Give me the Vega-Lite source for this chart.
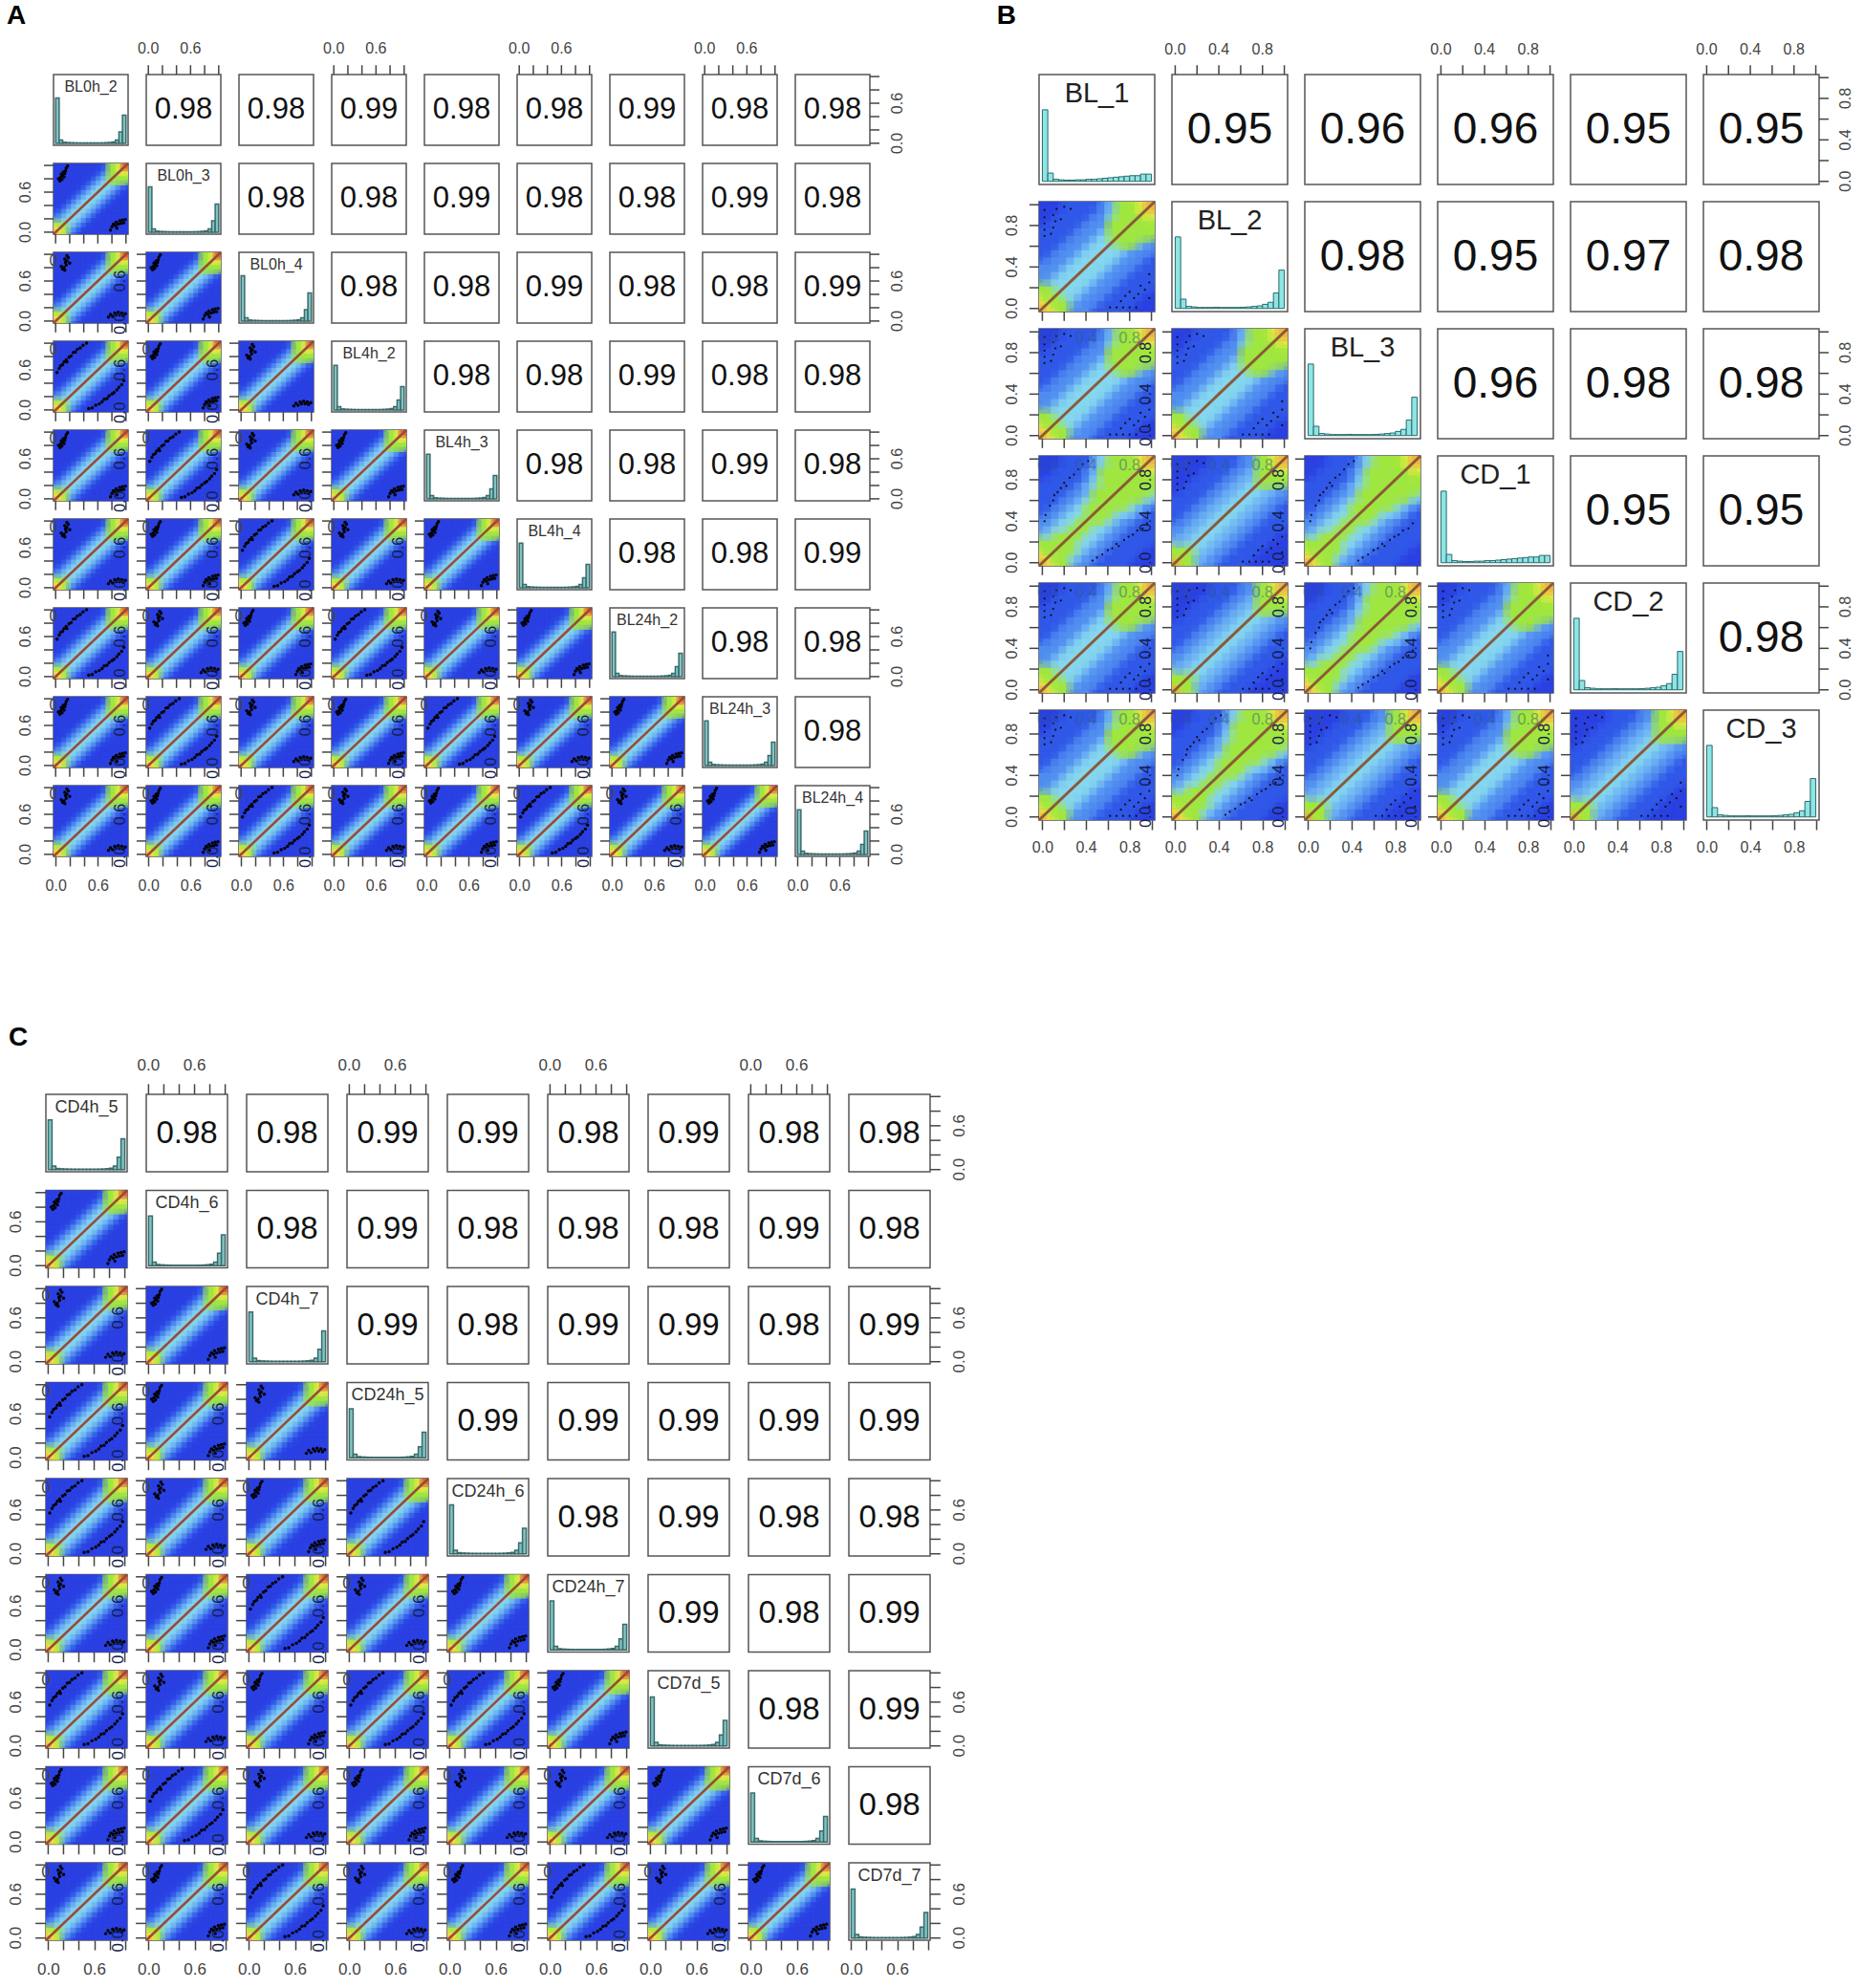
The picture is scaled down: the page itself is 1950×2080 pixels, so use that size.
{"$schema":"https://vega.github.io/schema/vega-lite/v6.json","padding":{"left":4,"top":2,"right":0,"bottom":0},"background":"white","config":{"font":"Liberation Sans","view":{"stroke":"#555","strokeWidth":1.5},"header":{"labels":false,"title":null,"labelFontSize":0,"labelColor":"transparent","labelPadding":0}},
"datasets":{
"cA":[{"k":"d","cell":[10,19,20,28,29,30,37,38,39,40,46,47,48,49,50,55,56,57,58,59,60,64,65,66,67,68,69,70,73,74,75,76,77,78,79,80]},{"k":"f","cell":[10,19,20,28,29,30,37,38,39,40,46,47,48,49,50,55,56,57,58,59,60,64,65,66,67,68,69,70,73,74,75,76,77,78,79,80]},{"k":"sc","cell":[10,19,20,28,29,30,37,38,39,40,46,47,48,49,50,55,56,57,58,59,60,64,65,66,67,68,69,70,73,74,75,76,77,78,79,80]},{"k":"btm","cell":[10,19,20,28,29,30,37,38,39,40,46,47,48,49,50,55,56,57,58,59,60,64,65,66,67,68,69,70]},{"k":"top","cell":[2,4,6,8]},{"k":"rgt","cell":[9,27,45,63,81]},{"k":"ll","cell":[10,19,28,37,46,55,64,73]},{"k":"g","cell":[19,28,29,37,38,39,46,47,48,49,55,56,57,58,59,64,65,66,67,68,69,73,74,75,76,77,78,79]},{"k":"0.98","cell":[2,3,5,6,8,9,12,13,15,16,18,22,23,25,26,32,33,35,36,42,43,45,52,53,62,63,72]},{"k":"0.99","cell":[4,7,14,17,24,27,34,44,54]},{"k":"hA","cell":[1,11,21]},{"k":"hA2","cell":[31,41,51,61,71,81]},{"k":"pS","cell":[28,38,48,58,68,78,55,65,75]},{"k":"p1","cell":[10,20,29,37,40,47,50,57,60,64,67,70,74,77,80]},{"k":"p2","cell":[19,30,39,46,49,56,59,66,69,73,76,79]},{"k":"BL0h_2","cell":[1]},{"k":"BL0h_3","cell":[11]},{"k":"BL0h_4","cell":[21]},{"k":"BL4h_2","cell":[31]},{"k":"BL4h_3","cell":[41]},{"k":"BL4h_4","cell":[51]},{"k":"BL24h_2","cell":[61]},{"k":"BL24h_3","cell":[71]},{"k":"BL24h_4","cell":[81]},{"k":"A","cell":[1]}],
"cC":[{"k":"d","cell":[10,19,20,28,29,30,37,38,39,40,46,47,48,49,50,55,56,57,58,59,60,64,65,66,67,68,69,70,73,74,75,76,77,78,79,80]},{"k":"f","cell":[10,19,20,28,29,30,37,38,39,40,46,47,48,49,50,55,56,57,58,59,60,64,65,66,67,68,69,70,73,74,75,76,77,78,79,80]},{"k":"sc","cell":[10,19,20,28,29,30,37,38,39,40,46,47,48,49,50,55,56,57,58,59,60,64,65,66,67,68,69,70,73,74,75,76,77,78,79,80]},{"k":"btm","cell":[10,19,20,28,29,30,37,38,39,40,46,47,48,49,50,55,56,57,58,59,60,64,65,66,67,68,69,70]},{"k":"top","cell":[2,4,6,8]},{"k":"rgt","cell":[9,27,45,63,81]},{"k":"ll","cell":[10,19,28,37,46,55,64,73]},{"k":"g","cell":[19,28,29,37,38,39,46,47,48,49,55,56,57,58,59,64,65,66,67,68,69,73,74,75,76,77,78,79]},{"k":"0.98","cell":[2,3,6,8,9,12,14,15,16,18,23,26,42,44,45,53,62,72]},{"k":"0.99","cell":[4,5,7,13,17,22,24,25,27,32,33,34,35,36,43,52,54,63]},{"k":"hA","cell":[1,11,21]},{"k":"hA2","cell":[31,41,51,61,71,81]},{"k":"pS","cell":[28,37,40,48,55,58,59,65,75,78]},{"k":"p1","cell":[10,20,29,39,47,50,57,60,64,67,70,74,77,80]},{"k":"p2","cell":[19,30,38,46,49,56,66,68,69,73,76,79]},{"k":"CD4h_5","cell":[1]},{"k":"CD4h_6","cell":[11]},{"k":"CD4h_7","cell":[21]},{"k":"CD24h_5","cell":[31]},{"k":"CD24h_6","cell":[41]},{"k":"CD24h_7","cell":[51]},{"k":"CD7d_5","cell":[61]},{"k":"CD7d_6","cell":[71]},{"k":"CD7d_7","cell":[81]},{"k":"C","cell":[1]}],
"cB":[{"k":"d","cell":[7,13,14,19,20,21,25,26,27,28,31,32,33,34,35]},{"k":"f","cell":[7,13,14,19,20,21,25,26,27,28,31,32,33,34,35]},{"k":"sc2","cell":[7,13,14,19,20,21,25,26,27,28,31,32,33,34,35]},{"k":"btm2","cell":[7,13,14,19,20,21,25,26,27,28]},{"k":"top2","cell":[2,4,6]},{"k":"rgt2","cell":[6,18,30]},{"k":"ll2","cell":[7,13,19,25,31]},{"k":"g2","cell":[13,19,20,25,26,27,31,32,33,34]},{"k":"0.95","cell":[2,5,6,10,23,24]},{"k":"0.96","cell":[3,4,16]},{"k":"0.97","cell":[11]},{"k":"0.98","cell":[9,12,17,18,30]},{"k":"hB1","cell":[1,22]},{"k":"hB2","cell":[8,15,29,36]},{"k":"pW","cell":[19,21,27,32]},{"k":"pK","cell":[7,13,14,20,25,26,28,31,33,34,35]},{"k":"BL_1","cell":[1]},{"k":"BL_2","cell":[8]},{"k":"BL_3","cell":[15]},{"k":"CD_1","cell":[22]},{"k":"CD_2","cell":[29]},{"k":"CD_3","cell":[36]},{"k":"B","cell":[1]}],
"rows":[
{"t":"L","k":"A","x":-0.56,"y":1.9},{"t":"L","k":"B","x":-0.33,"y":1.59},{"t":"L","k":"C","x":-0.39,"y":1.8},
{"k":"f","x":-0.03,"x2":1.03,"y":-0.03,"y2":1.03},
{"t":"c","k":"0.95","x":0.5,"y":0.5},{"t":"c","k":"0.96","x":0.5,"y":0.5},{"t":"c","k":"0.97","x":0.5,"y":0.5},{"t":"c","k":"0.98","x":0.5,"y":0.5},{"t":"c","k":"0.99","x":0.5,"y":0.5},
{"t":"l","k":"BL0h_2","x":0.5,"y":0.85},{"t":"l","k":"BL0h_3","x":0.5,"y":0.85},{"t":"l","k":"BL0h_4","x":0.5,"y":0.85},{"t":"l","k":"BL4h_2","x":0.5,"y":0.85},{"t":"l","k":"BL4h_3","x":0.5,"y":0.85},{"t":"l","k":"BL4h_4","x":0.5,"y":0.85},{"t":"l","k":"BL24h_2","x":0.5,"y":0.85},{"t":"l","k":"BL24h_3","x":0.5,"y":0.85},{"t":"l","k":"BL24h_4","x":0.5,"y":0.85},
{"t":"l","k":"CD4h_5","x":0.5,"y":0.85},{"t":"l","k":"CD4h_6","x":0.5,"y":0.85},{"t":"l","k":"CD4h_7","x":0.5,"y":0.85},{"t":"l","k":"CD24h_5","x":0.5,"y":0.85},{"t":"l","k":"CD24h_6","x":0.5,"y":0.85},{"t":"l","k":"CD24h_7","x":0.5,"y":0.85},{"t":"l","k":"CD7d_5","x":0.5,"y":0.85},{"t":"l","k":"CD7d_6","x":0.5,"y":0.85},{"t":"l","k":"CD7d_7","x":0.5,"y":0.85},
{"t":"l","k":"BL_1","x":0.5,"y":0.85},{"t":"l","k":"BL_2","x":0.5,"y":0.85},{"t":"l","k":"BL_3","x":0.5,"y":0.85},{"t":"l","k":"CD_1","x":0.5,"y":0.85},{"t":"l","k":"CD_2","x":0.5,"y":0.85},{"t":"l","k":"CD_3","x":0.5,"y":0.85},
{"t":"r","k":"top","x":0,"x2":0,"y":1.03,"y2":1.17},{"t":"r","k":"top","x":0.2,"x2":0.2,"y":1.03,"y2":1.17},{"t":"r","k":"top","x":0.4,"x2":0.4,"y":1.03,"y2":1.17},{"t":"r","k":"top","x":0.6,"x2":0.6,"y":1.03,"y2":1.17},{"t":"r","k":"top","x":0.8,"x2":0.8,"y":1.03,"y2":1.17},{"t":"r","k":"top","x":1,"x2":1,"y":1.03,"y2":1.17},
{"t":"r","k":"btm","x":0,"x2":0,"y":-0.03,"y2":-0.17},{"t":"r","k":"btm","x":0.2,"x2":0.2,"y":-0.03,"y2":-0.17},{"t":"r","k":"btm","x":0.4,"x2":0.4,"y":-0.03,"y2":-0.17},{"t":"r","k":"btm","x":0.6,"x2":0.6,"y":-0.03,"y2":-0.17},{"t":"r","k":"btm","x":0.8,"x2":0.8,"y":-0.03,"y2":-0.17},{"t":"r","k":"btm","x":1,"x2":1,"y":-0.03,"y2":-0.17},
{"t":"r","k":"sc","x":-0.03,"x2":-0.166,"y":0,"y2":0},{"t":"r","k":"sc","x":-0.03,"x2":-0.166,"y":0.2,"y2":0.2},{"t":"r","k":"sc","x":-0.03,"x2":-0.166,"y":0.4,"y2":0.4},{"t":"r","k":"sc","x":-0.03,"x2":-0.166,"y":0.6,"y2":0.6},{"t":"r","k":"sc","x":-0.03,"x2":-0.166,"y":0.8,"y2":0.8},{"t":"r","k":"sc","x":-0.03,"x2":-0.166,"y":1,"y2":1},
{"t":"r","k":"rgt","x":1.03,"x2":1.166,"y":0,"y2":0},{"t":"r","k":"rgt","x":1.03,"x2":1.166,"y":0.2,"y2":0.2},{"t":"r","k":"rgt","x":1.03,"x2":1.166,"y":0.4,"y2":0.4},{"t":"r","k":"rgt","x":1.03,"x2":1.166,"y":0.6,"y2":0.6},{"t":"r","k":"rgt","x":1.03,"x2":1.166,"y":0.8,"y2":0.8},{"t":"r","k":"rgt","x":1.03,"x2":1.166,"y":1,"y2":1},
{"t":"r","k":"top2","x":0,"x2":0,"y":1.03,"y2":1.12},{"t":"r","k":"top2","x":0.2,"x2":0.2,"y":1.03,"y2":1.12},{"t":"r","k":"top2","x":0.4,"x2":0.4,"y":1.03,"y2":1.12},{"t":"r","k":"top2","x":0.6,"x2":0.6,"y":1.03,"y2":1.12},{"t":"r","k":"top2","x":0.8,"x2":0.8,"y":1.03,"y2":1.12},{"t":"r","k":"top2","x":1,"x2":1,"y":1.03,"y2":1.12},
{"t":"r","k":"btm2","x":0,"x2":0,"y":-0.03,"y2":-0.12},{"t":"r","k":"btm2","x":0.2,"x2":0.2,"y":-0.03,"y2":-0.12},{"t":"r","k":"btm2","x":0.4,"x2":0.4,"y":-0.03,"y2":-0.12},{"t":"r","k":"btm2","x":0.6,"x2":0.6,"y":-0.03,"y2":-0.12},{"t":"r","k":"btm2","x":0.8,"x2":0.8,"y":-0.03,"y2":-0.12},{"t":"r","k":"btm2","x":1,"x2":1,"y":-0.03,"y2":-0.12},
{"t":"r","k":"sc2","x":-0.03,"x2":-0.118,"y":0,"y2":0},{"t":"r","k":"sc2","x":-0.03,"x2":-0.118,"y":0.2,"y2":0.2},{"t":"r","k":"sc2","x":-0.03,"x2":-0.118,"y":0.4,"y2":0.4},{"t":"r","k":"sc2","x":-0.03,"x2":-0.118,"y":0.6,"y2":0.6},{"t":"r","k":"sc2","x":-0.03,"x2":-0.118,"y":0.8,"y2":0.8},{"t":"r","k":"sc2","x":-0.03,"x2":-0.118,"y":1,"y2":1},
{"t":"r","k":"rgt2","x":1.03,"x2":1.118,"y":0,"y2":0},{"t":"r","k":"rgt2","x":1.03,"x2":1.118,"y":0.2,"y2":0.2},{"t":"r","k":"rgt2","x":1.03,"x2":1.118,"y":0.4,"y2":0.4},{"t":"r","k":"rgt2","x":1.03,"x2":1.118,"y":0.6,"y2":0.6},{"t":"r","k":"rgt2","x":1.03,"x2":1.118,"y":0.8,"y2":0.8},{"t":"r","k":"rgt2","x":1.03,"x2":1.118,"y":1,"y2":1},
{"t":"a","k":"top","x":0,"y":1.42,"v":"0.0"},{"t":"a","k":"top","x":0.6,"y":1.42,"v":"0.6"},
{"t":"s","k":"ll","x":-0.42,"y":0,"v":"0.0"},{"t":"s","k":"ll","x":-0.42,"y":0.6,"v":"0.6"},
{"t":"s","k":"rgt","x":1.42,"y":0,"v":"0.0"},{"t":"s","k":"rgt","x":1.42,"y":0.6,"v":"0.6"},
{"t":"z","k":"g","x":0.92,"y":0.6,"v":"0.6"},{"t":"z","k":"g","x":0.92,"y":-0.04,"v":"0.0"},{"t":"a","k":"g","x":-0.03,"y":0.9,"v":"0"},
{"t":"a","k":"top2","x":0,"y":1.27,"v":"0.0"},{"t":"a","k":"top2","x":0.4,"y":1.27,"v":"0.4"},{"t":"a","k":"top2","x":0.8,"y":1.27,"v":"0.8"},
{"t":"s","k":"ll2","x":-0.275,"y":0,"v":"0.0"},{"t":"s","k":"ll2","x":-0.275,"y":0.4,"v":"0.4"},{"t":"s","k":"ll2","x":-0.275,"y":0.8,"v":"0.8"},
{"t":"s","k":"rgt2","x":1.275,"y":0,"v":"0.0"},{"t":"s","k":"rgt2","x":1.275,"y":0.4,"v":"0.4"},{"t":"s","k":"rgt2","x":1.275,"y":0.8,"v":"0.8"},
{"t":"z","k":"g2","x":0.95,"y":0,"v":"0.0"},{"t":"z","k":"g2","x":0.95,"y":0.4,"v":"0.4"},{"t":"z","k":"g2","x":0.95,"y":0.8,"v":"0.8"},
{"t":"q","k":"g2","x":0.05,"y":0.94,"v":"0.0"},{"t":"q","k":"g2","x":0.4,"y":0.94,"v":"0.4"},{"t":"q","k":"g2","x":0.8,"y":0.94,"v":"0.8"},
{"t":"h","k":"hA","x":0,"x2":0.05,"y":0.68},{"t":"h","k":"hA","x":0.05,"x2":0.1,"y":0.05},{"t":"h","k":"hA","x":0.1,"x2":0.15,"y":0.015},{"t":"h","k":"hA","x":0.15,"x2":0.2,"y":0.01},{"t":"h","k":"hA","x":0.2,"x2":0.25,"y":0.008},{"t":"h","k":"hA","x":0.25,"x2":0.3,"y":0.006},{"t":"h","k":"hA","x":0.3,"x2":0.35,"y":0.005},{"t":"h","k":"hA","x":0.35,"x2":0.4,"y":0.005},{"t":"h","k":"hA","x":0.4,"x2":0.45,"y":0.005},{"t":"h","k":"hA","x":0.45,"x2":0.5,"y":0.005},{"t":"h","k":"hA","x":0.5,"x2":0.55,"y":0.005},{"t":"h","k":"hA","x":0.55,"x2":0.6,"y":0.005},{"t":"h","k":"hA","x":0.6,"x2":0.65,"y":0.005},{"t":"h","k":"hA","x":0.65,"x2":0.7,"y":0.006},{"t":"h","k":"hA","x":0.7,"x2":0.75,"y":0.008},{"t":"h","k":"hA","x":0.75,"x2":0.8,"y":0.012},{"t":"h","k":"hA","x":0.8,"x2":0.85,"y":0.02},{"t":"h","k":"hA","x":0.85,"x2":0.9,"y":0.05},{"t":"h","k":"hA","x":0.9,"x2":0.95,"y":0.17},{"t":"h","k":"hA","x":0.95,"x2":1,"y":0.42},
{"t":"h","k":"hA2","x":0,"x2":0.05,"y":0.67},{"t":"h","k":"hA2","x":0.05,"x2":0.1,"y":0.05},{"t":"h","k":"hA2","x":0.1,"x2":0.15,"y":0.015},{"t":"h","k":"hA2","x":0.15,"x2":0.2,"y":0.01},{"t":"h","k":"hA2","x":0.2,"x2":0.25,"y":0.008},{"t":"h","k":"hA2","x":0.25,"x2":0.3,"y":0.006},{"t":"h","k":"hA2","x":0.3,"x2":0.35,"y":0.005},{"t":"h","k":"hA2","x":0.35,"x2":0.4,"y":0.005},{"t":"h","k":"hA2","x":0.4,"x2":0.45,"y":0.005},{"t":"h","k":"hA2","x":0.45,"x2":0.5,"y":0.005},{"t":"h","k":"hA2","x":0.5,"x2":0.55,"y":0.005},{"t":"h","k":"hA2","x":0.55,"x2":0.6,"y":0.005},{"t":"h","k":"hA2","x":0.6,"x2":0.65,"y":0.005},{"t":"h","k":"hA2","x":0.65,"x2":0.7,"y":0.006},{"t":"h","k":"hA2","x":0.7,"x2":0.75,"y":0.008},{"t":"h","k":"hA2","x":0.75,"x2":0.8,"y":0.012},{"t":"h","k":"hA2","x":0.8,"x2":0.85,"y":0.02},{"t":"h","k":"hA2","x":0.85,"x2":0.9,"y":0.05},{"t":"h","k":"hA2","x":0.9,"x2":0.95,"y":0.15},{"t":"h","k":"hA2","x":0.95,"x2":1,"y":0.35},
{"t":"h","k":"hB1","x":0,"x2":0.05,"y":0.69},{"t":"h","k":"hB1","x":0.05,"x2":0.1,"y":0.08},{"t":"h","k":"hB1","x":0.1,"x2":0.15,"y":0.02},{"t":"h","k":"hB1","x":0.15,"x2":0.2,"y":0.015},{"t":"h","k":"hB1","x":0.2,"x2":0.25,"y":0.012},{"t":"h","k":"hB1","x":0.25,"x2":0.3,"y":0.012},{"t":"h","k":"hB1","x":0.3,"x2":0.35,"y":0.015},{"t":"h","k":"hB1","x":0.35,"x2":0.4,"y":0.015},{"t":"h","k":"hB1","x":0.4,"x2":0.45,"y":0.02},{"t":"h","k":"hB1","x":0.45,"x2":0.5,"y":0.02},{"t":"h","k":"hB1","x":0.5,"x2":0.55,"y":0.025},{"t":"h","k":"hB1","x":0.55,"x2":0.6,"y":0.03},{"t":"h","k":"hB1","x":0.6,"x2":0.65,"y":0.035},{"t":"h","k":"hB1","x":0.65,"x2":0.7,"y":0.04},{"t":"h","k":"hB1","x":0.7,"x2":0.75,"y":0.045},{"t":"h","k":"hB1","x":0.75,"x2":0.8,"y":0.05},{"t":"h","k":"hB1","x":0.8,"x2":0.85,"y":0.055},{"t":"h","k":"hB1","x":0.85,"x2":0.9,"y":0.055},{"t":"h","k":"hB1","x":0.9,"x2":0.95,"y":0.07},{"t":"h","k":"hB1","x":0.95,"x2":1,"y":0.07},
{"t":"h","k":"hB2","x":0,"x2":0.05,"y":0.69},{"t":"h","k":"hB2","x":0.05,"x2":0.1,"y":0.09},{"t":"h","k":"hB2","x":0.1,"x2":0.15,"y":0.02},{"t":"h","k":"hB2","x":0.15,"x2":0.2,"y":0.015},{"t":"h","k":"hB2","x":0.2,"x2":0.25,"y":0.01},{"t":"h","k":"hB2","x":0.25,"x2":0.3,"y":0.01},{"t":"h","k":"hB2","x":0.3,"x2":0.35,"y":0.01},{"t":"h","k":"hB2","x":0.35,"x2":0.4,"y":0.012},{"t":"h","k":"hB2","x":0.4,"x2":0.45,"y":0.01},{"t":"h","k":"hB2","x":0.45,"x2":0.5,"y":0.01},{"t":"h","k":"hB2","x":0.5,"x2":0.55,"y":0.01},{"t":"h","k":"hB2","x":0.55,"x2":0.6,"y":0.01},{"t":"h","k":"hB2","x":0.6,"x2":0.65,"y":0.012},{"t":"h","k":"hB2","x":0.65,"x2":0.7,"y":0.015},{"t":"h","k":"hB2","x":0.7,"x2":0.75,"y":0.02},{"t":"h","k":"hB2","x":0.75,"x2":0.8,"y":0.025},{"t":"h","k":"hB2","x":0.8,"x2":0.85,"y":0.04},{"t":"h","k":"hB2","x":0.85,"x2":0.9,"y":0.06},{"t":"h","k":"hB2","x":0.9,"x2":0.95,"y":0.15},{"t":"h","k":"hB2","x":0.95,"x2":1,"y":0.37},
{"t":"p","k":"pS","x":0.02,"y":0.56},{"t":"p","k":"pS","x":0.05,"y":0.62},{"t":"p","k":"pS","x":0.07,"y":0.66},{"t":"p","k":"pS","x":0.1,"y":0.68},{"t":"p","k":"pS","x":0.12,"y":0.72},{"t":"p","k":"pS","x":0.15,"y":0.75},{"t":"p","k":"pS","x":0.16,"y":0.72},{"t":"p","k":"pS","x":0.19,"y":0.79},{"t":"p","k":"pS","x":0.22,"y":0.81},{"t":"p","k":"pS","x":0.25,"y":0.86},{"t":"p","k":"pS","x":0.28,"y":0.87},{"t":"p","k":"pS","x":0.31,"y":0.91},{"t":"p","k":"pS","x":0.35,"y":0.93},{"t":"p","k":"pS","x":0.39,"y":0.97},{"t":"p","k":"pS","x":0.44,"y":1},{"t":"p","k":"pS","x":0.47,"y":0.02},{"t":"p","k":"pS","x":0.52,"y":0.03},{"t":"p","k":"pS","x":0.57,"y":0.07},{"t":"p","k":"pS","x":0.62,"y":0.09},{"t":"p","k":"pS","x":0.66,"y":0.12},{"t":"p","k":"pS","x":0.69,"y":0.16},{"t":"p","k":"pS","x":0.73,"y":0.17},{"t":"p","k":"pS","x":0.76,"y":0.21},{"t":"p","k":"pS","x":0.8,"y":0.24},{"t":"p","k":"pS","x":0.83,"y":0.26},{"t":"p","k":"pS","x":0.87,"y":0.3},{"t":"p","k":"pS","x":0.9,"y":0.34},{"t":"p","k":"pS","x":0.94,"y":0.38},{"t":"p","k":"pS","x":0.97,"y":0.44},
{"t":"p","k":"p1","x":0.04,"y":0.8},{"t":"p","k":"p1","x":0.06,"y":0.77},{"t":"p","k":"p1","x":0.07,"y":0.82},{"t":"p","k":"p1","x":0.09,"y":0.79},{"t":"p","k":"p1","x":0.1,"y":0.85},{"t":"p","k":"p1","x":0.12,"y":0.83},{"t":"p","k":"p1","x":0.13,"y":0.88},{"t":"p","k":"p1","x":0.14,"y":0.92},{"t":"p","k":"p1","x":0.15,"y":0.96},{"t":"p","k":"p1","x":0.17,"y":0.99},{"t":"p","k":"p1","x":0.11,"y":0.9},{"t":"p","k":"p1","x":0.08,"y":0.87},{"t":"p","k":"p1","x":0.78,"y":0.03},{"t":"p","k":"p1","x":0.8,"y":0.08},{"t":"p","k":"p1","x":0.82,"y":0.12},{"t":"p","k":"p1","x":0.85,"y":0.1},{"t":"p","k":"p1","x":0.86,"y":0.15},{"t":"p","k":"p1","x":0.89,"y":0.12},{"t":"p","k":"p1","x":0.91,"y":0.17},{"t":"p","k":"p1","x":0.93,"y":0.13},{"t":"p","k":"p1","x":0.95,"y":0.18},{"t":"p","k":"p1","x":0.97,"y":0.14},{"t":"p","k":"p1","x":0.99,"y":0.19},{"t":"p","k":"p1","x":0.87,"y":0.06},
{"t":"p","k":"p2","x":0.08,"y":0.82},{"t":"p","k":"p2","x":0.1,"y":0.78},{"t":"p","k":"p2","x":0.12,"y":0.8},{"t":"p","k":"p2","x":0.13,"y":0.76},{"t":"p","k":"p2","x":0.15,"y":0.84},{"t":"p","k":"p2","x":0.14,"y":0.88},{"t":"p","k":"p2","x":0.16,"y":0.9},{"t":"p","k":"p2","x":0.13,"y":0.93},{"t":"p","k":"p2","x":0.18,"y":0.95},{"t":"p","k":"p2","x":0.16,"y":0.98},{"t":"p","k":"p2","x":0.2,"y":0.87},{"t":"p","k":"p2","x":0.75,"y":0.06},{"t":"p","k":"p2","x":0.78,"y":0.1},{"t":"p","k":"p2","x":0.81,"y":0.07},{"t":"p","k":"p2","x":0.84,"y":0.12},{"t":"p","k":"p2","x":0.86,"y":0.09},{"t":"p","k":"p2","x":0.89,"y":0.13},{"t":"p","k":"p2","x":0.91,"y":0.09},{"t":"p","k":"p2","x":0.94,"y":0.12},{"t":"p","k":"p2","x":0.96,"y":0.08},{"t":"p","k":"p2","x":0.99,"y":0.11},
{"t":"p","k":"pW","x":0.02,"y":0.4},{"t":"p","k":"pW","x":0.03,"y":0.46},{"t":"p","k":"pW","x":0.07,"y":0.55},{"t":"p","k":"pW","x":0.1,"y":0.6},{"t":"p","k":"pW","x":0.11,"y":0.65},{"t":"p","k":"pW","x":0.14,"y":0.68},{"t":"p","k":"pW","x":0.17,"y":0.72},{"t":"p","k":"pW","x":0.2,"y":0.77},{"t":"p","k":"pW","x":0.22,"y":0.74},{"t":"p","k":"pW","x":0.25,"y":0.82},{"t":"p","k":"pW","x":0.29,"y":0.85},{"t":"p","k":"pW","x":0.33,"y":0.9},{"t":"p","k":"pW","x":0.37,"y":0.95},{"t":"p","k":"pW","x":0.42,"y":0.98},{"t":"p","k":"pW","x":0.46,"y":0.02},{"t":"p","k":"pW","x":0.5,"y":0.05},{"t":"p","k":"pW","x":0.55,"y":0.08},{"t":"p","k":"pW","x":0.6,"y":0.12},{"t":"p","k":"pW","x":0.64,"y":0.14},{"t":"p","k":"pW","x":0.68,"y":0.18},{"t":"p","k":"pW","x":0.7,"y":0.16},{"t":"p","k":"pW","x":0.75,"y":0.22},{"t":"p","k":"pW","x":0.79,"y":0.25},{"t":"p","k":"pW","x":0.83,"y":0.27},{"t":"p","k":"pW","x":0.87,"y":0.31},{"t":"p","k":"pW","x":0.92,"y":0.33},{"t":"p","k":"pW","x":0.96,"y":0.38},
{"t":"p","k":"pK","x":0.02,"y":0.7},{"t":"p","k":"pK","x":0.02,"y":0.76},{"t":"p","k":"pK","x":0.02,"y":0.82},{"t":"p","k":"pK","x":0.02,"y":0.88},{"t":"p","k":"pK","x":0.02,"y":0.95},{"t":"p","k":"pK","x":0.08,"y":0.72},{"t":"p","k":"pK","x":0.1,"y":0.78},{"t":"p","k":"pK","x":0.12,"y":0.84},{"t":"p","k":"pK","x":0.1,"y":0.9},{"t":"p","k":"pK","x":0.13,"y":0.96},{"t":"p","k":"pK","x":0.17,"y":0.86},{"t":"p","k":"pK","x":0.2,"y":0.98},{"t":"p","k":"pK","x":0.26,"y":0.96},{"t":"p","k":"pK","x":0.62,"y":0.01},{"t":"p","k":"pK","x":0.68,"y":0.01},{"t":"p","k":"pK","x":0.74,"y":0.01},{"t":"p","k":"pK","x":0.8,"y":0.01},{"t":"p","k":"pK","x":0.86,"y":0.01},{"t":"p","k":"pK","x":0.72,"y":0.07},{"t":"p","k":"pK","x":0.76,"y":0.12},{"t":"p","k":"pK","x":0.8,"y":0.16},{"t":"p","k":"pK","x":0.84,"y":0.1},{"t":"p","k":"pK","x":0.88,"y":0.14},{"t":"p","k":"pK","x":0.9,"y":0.22},{"t":"p","k":"pK","x":0.94,"y":0.18},{"t":"p","k":"pK","x":0.98,"y":0.1},{"t":"p","k":"pK","x":0.98,"y":0.25},{"t":"p","k":"pK","x":0.98,"y":0.33},
{"k":"d","x":0.01,"y":0.01,"a":8,"b":8,"w":8,"s":8},{"k":"d","x":0.08,"y":0.01,"a":7,"b":7,"w":7,"s":6},{"k":"d","x":0.15,"y":0.01,"a":5,"b":5,"w":5,"s":5},{"k":"d","x":0.22,"y":0.01,"a":2,"b":5,"w":5,"s":3},{"k":"d","x":0.29,"y":0.01,"a":1,"b":2,"w":3,"s":2},{"k":"d","x":0.36,"y":0.01,"a":0,"b":2,"w":2,"s":2},{"k":"d","x":0.43,"y":0.01,"a":0,"b":2,"w":2,"s":1},{"k":"d","x":0.5,"y":0.01,"a":0,"b":1,"w":1,"s":1},{"k":"d","x":0.57,"y":0.01,"a":0,"b":1,"w":1,"s":1},{"k":"d","x":0.64,"y":0.01,"a":0,"b":1,"w":1,"s":1},{"k":"d","x":0.71,"y":0.01,"a":0,"b":1,"w":1,"s":0},{"k":"d","x":0.78,"y":0.01,"a":0,"b":1,"w":1,"s":0},{"k":"d","x":0.85,"y":0.01,"a":0,"b":0,"w":0,"s":0},{"k":"d","x":0.92,"y":0.01,"a":0,"b":0,"w":0,"s":0},{"k":"d","x":0.99,"y":0.01,"a":0,"b":0,"w":0,"s":0},
{"k":"d","x":0.01,"y":0.08,"a":7,"b":7,"w":7,"s":6},{"k":"d","x":0.08,"y":0.08,"a":7,"b":6,"w":6,"s":6},{"k":"d","x":0.15,"y":0.08,"a":5,"b":5,"w":5,"s":5},{"k":"d","x":0.22,"y":0.08,"a":3,"b":5,"w":5,"s":3},{"k":"d","x":0.29,"y":0.08,"a":2,"b":3,"w":4,"s":3},{"k":"d","x":0.36,"y":0.08,"a":1,"b":2,"w":3,"s":2},{"k":"d","x":0.43,"y":0.08,"a":0,"b":2,"w":2,"s":2},{"k":"d","x":0.5,"y":0.08,"a":0,"b":2,"w":2,"s":1},{"k":"d","x":0.57,"y":0.08,"a":0,"b":1,"w":1,"s":1},{"k":"d","x":0.64,"y":0.08,"a":0,"b":1,"w":1,"s":1},{"k":"d","x":0.71,"y":0.08,"a":0,"b":1,"w":1,"s":1},{"k":"d","x":0.78,"y":0.08,"a":0,"b":1,"w":1,"s":0},{"k":"d","x":0.85,"y":0.08,"a":0,"b":1,"w":1,"s":0},{"k":"d","x":0.92,"y":0.08,"a":0,"b":0,"w":0,"s":0},{"k":"d","x":0.99,"y":0.08,"a":0,"b":0,"w":0,"s":0},
{"k":"d","x":0.01,"y":0.15,"a":5,"b":5,"w":5,"s":5},{"k":"d","x":0.08,"y":0.15,"a":5,"b":5,"w":5,"s":5},{"k":"d","x":0.15,"y":0.15,"a":5,"b":5,"w":5,"s":5},{"k":"d","x":0.22,"y":0.15,"a":4,"b":4,"w":5,"s":4},{"k":"d","x":0.29,"y":0.15,"a":3,"b":4,"w":5,"s":3},{"k":"d","x":0.36,"y":0.15,"a":2,"b":3,"w":4,"s":3},{"k":"d","x":0.43,"y":0.15,"a":1,"b":2,"w":3,"s":2},{"k":"d","x":0.5,"y":0.15,"a":0,"b":2,"w":2,"s":2},{"k":"d","x":0.57,"y":0.15,"a":0,"b":2,"w":2,"s":1},{"k":"d","x":0.64,"y":0.15,"a":0,"b":1,"w":1,"s":1},{"k":"d","x":0.71,"y":0.15,"a":0,"b":1,"w":1,"s":1},{"k":"d","x":0.78,"y":0.15,"a":0,"b":1,"w":1,"s":1},{"k":"d","x":0.85,"y":0.15,"a":0,"b":1,"w":1,"s":0},{"k":"d","x":0.92,"y":0.15,"a":0,"b":1,"w":1,"s":0},{"k":"d","x":0.99,"y":0.15,"a":0,"b":0,"w":0,"s":0},
{"k":"d","x":0.01,"y":0.22,"a":2,"b":5,"w":5,"s":3},{"k":"d","x":0.08,"y":0.22,"a":3,"b":5,"w":5,"s":3},{"k":"d","x":0.15,"y":0.22,"a":4,"b":4,"w":5,"s":4},{"k":"d","x":0.22,"y":0.22,"a":4,"b":4,"w":5,"s":4},{"k":"d","x":0.29,"y":0.22,"a":4,"b":4,"w":5,"s":4},{"k":"d","x":0.36,"y":0.22,"a":3,"b":4,"w":4,"s":3},{"k":"d","x":0.43,"y":0.22,"a":2,"b":3,"w":4,"s":3},{"k":"d","x":0.5,"y":0.22,"a":1,"b":2,"w":3,"s":2},{"k":"d","x":0.57,"y":0.22,"a":0,"b":2,"w":2,"s":2},{"k":"d","x":0.64,"y":0.22,"a":0,"b":2,"w":2,"s":1},{"k":"d","x":0.71,"y":0.22,"a":0,"b":1,"w":1,"s":1},{"k":"d","x":0.78,"y":0.22,"a":0,"b":1,"w":1,"s":1},{"k":"d","x":0.85,"y":0.22,"a":0,"b":1,"w":1,"s":1},{"k":"d","x":0.92,"y":0.22,"a":0,"b":1,"w":1,"s":0},{"k":"d","x":0.99,"y":0.22,"a":0,"b":1,"w":1,"s":0},
{"k":"d","x":0.01,"y":0.29,"a":1,"b":2,"w":3,"s":2},{"k":"d","x":0.08,"y":0.29,"a":2,"b":3,"w":4,"s":3},{"k":"d","x":0.15,"y":0.29,"a":3,"b":4,"w":5,"s":3},{"k":"d","x":0.22,"y":0.29,"a":4,"b":4,"w":5,"s":4},{"k":"d","x":0.29,"y":0.29,"a":4,"b":4,"w":5,"s":4},{"k":"d","x":0.36,"y":0.29,"a":4,"b":4,"w":5,"s":4},{"k":"d","x":0.43,"y":0.29,"a":3,"b":4,"w":4,"s":3},{"k":"d","x":0.5,"y":0.29,"a":2,"b":3,"w":4,"s":3},{"k":"d","x":0.57,"y":0.29,"a":1,"b":2,"w":3,"s":2},{"k":"d","x":0.64,"y":0.29,"a":0,"b":2,"w":2,"s":2},{"k":"d","x":0.71,"y":0.29,"a":0,"b":2,"w":2,"s":1},{"k":"d","x":0.78,"y":0.29,"a":0,"b":1,"w":1,"s":1},{"k":"d","x":0.85,"y":0.29,"a":0,"b":1,"w":1,"s":1},{"k":"d","x":0.92,"y":0.29,"a":0,"b":1,"w":1,"s":1},{"k":"d","x":0.99,"y":0.29,"a":0,"b":1,"w":1,"s":0},
{"k":"d","x":0.01,"y":0.36,"a":0,"b":2,"w":2,"s":2},{"k":"d","x":0.08,"y":0.36,"a":1,"b":2,"w":3,"s":2},{"k":"d","x":0.15,"y":0.36,"a":2,"b":3,"w":4,"s":3},{"k":"d","x":0.22,"y":0.36,"a":3,"b":4,"w":4,"s":3},{"k":"d","x":0.29,"y":0.36,"a":4,"b":4,"w":5,"s":4},{"k":"d","x":0.36,"y":0.36,"a":4,"b":4,"w":5,"s":4},{"k":"d","x":0.43,"y":0.36,"a":4,"b":4,"w":5,"s":4},{"k":"d","x":0.5,"y":0.36,"a":3,"b":4,"w":4,"s":3},{"k":"d","x":0.57,"y":0.36,"a":2,"b":3,"w":4,"s":3},{"k":"d","x":0.64,"y":0.36,"a":1,"b":2,"w":3,"s":2},{"k":"d","x":0.71,"y":0.36,"a":0,"b":2,"w":2,"s":2},{"k":"d","x":0.78,"y":0.36,"a":0,"b":2,"w":2,"s":1},{"k":"d","x":0.85,"y":0.36,"a":0,"b":1,"w":1,"s":1},{"k":"d","x":0.92,"y":0.36,"a":0,"b":1,"w":1,"s":1},{"k":"d","x":0.99,"y":0.36,"a":0,"b":1,"w":1,"s":1},
{"k":"d","x":0.01,"y":0.43,"a":0,"b":2,"w":2,"s":1},{"k":"d","x":0.08,"y":0.43,"a":0,"b":2,"w":2,"s":2},{"k":"d","x":0.15,"y":0.43,"a":1,"b":2,"w":3,"s":2},{"k":"d","x":0.22,"y":0.43,"a":2,"b":3,"w":4,"s":3},{"k":"d","x":0.29,"y":0.43,"a":3,"b":4,"w":4,"s":3},{"k":"d","x":0.36,"y":0.43,"a":4,"b":4,"w":5,"s":4},{"k":"d","x":0.43,"y":0.43,"a":4,"b":4,"w":5,"s":4},{"k":"d","x":0.5,"y":0.43,"a":4,"b":4,"w":5,"s":4},{"k":"d","x":0.57,"y":0.43,"a":3,"b":4,"w":5,"s":3},{"k":"d","x":0.64,"y":0.43,"a":2,"b":3,"w":4,"s":3},{"k":"d","x":0.71,"y":0.43,"a":1,"b":2,"w":3,"s":2},{"k":"d","x":0.78,"y":0.43,"a":0,"b":2,"w":2,"s":2},{"k":"d","x":0.85,"y":0.43,"a":0,"b":2,"w":2,"s":1},{"k":"d","x":0.92,"y":0.43,"a":0,"b":1,"w":1,"s":1},{"k":"d","x":0.99,"y":0.43,"a":0,"b":1,"w":1,"s":1},
{"k":"d","x":0.01,"y":0.5,"a":0,"b":1,"w":1,"s":1},{"k":"d","x":0.08,"y":0.5,"a":0,"b":2,"w":2,"s":1},{"k":"d","x":0.15,"y":0.5,"a":0,"b":2,"w":2,"s":2},{"k":"d","x":0.22,"y":0.5,"a":1,"b":2,"w":3,"s":2},{"k":"d","x":0.29,"y":0.5,"a":2,"b":3,"w":4,"s":3},{"k":"d","x":0.36,"y":0.5,"a":3,"b":4,"w":4,"s":3},{"k":"d","x":0.43,"y":0.5,"a":4,"b":4,"w":5,"s":4},{"k":"d","x":0.5,"y":0.5,"a":4,"b":4,"w":5,"s":4},{"k":"d","x":0.57,"y":0.5,"a":4,"b":4,"w":5,"s":4},{"k":"d","x":0.64,"y":0.5,"a":3,"b":4,"w":5,"s":3},{"k":"d","x":0.71,"y":0.5,"a":2,"b":3,"w":4,"s":3},{"k":"d","x":0.78,"y":0.5,"a":1,"b":2,"w":4,"s":2},{"k":"d","x":0.85,"y":0.5,"a":0,"b":2,"w":3,"s":2},{"k":"d","x":0.92,"y":0.5,"a":0,"b":2,"w":2,"s":1},{"k":"d","x":0.99,"y":0.5,"a":0,"b":1,"w":1,"s":1},
{"k":"d","x":0.01,"y":0.57,"a":0,"b":1,"w":1,"s":1},{"k":"d","x":0.08,"y":0.57,"a":0,"b":1,"w":1,"s":1},{"k":"d","x":0.15,"y":0.57,"a":0,"b":2,"w":2,"s":1},{"k":"d","x":0.22,"y":0.57,"a":0,"b":2,"w":2,"s":2},{"k":"d","x":0.29,"y":0.57,"a":1,"b":2,"w":3,"s":2},{"k":"d","x":0.36,"y":0.57,"a":2,"b":3,"w":4,"s":3},{"k":"d","x":0.43,"y":0.57,"a":3,"b":4,"w":5,"s":3},{"k":"d","x":0.5,"y":0.57,"a":4,"b":4,"w":5,"s":4},{"k":"d","x":0.57,"y":0.57,"a":4,"b":4,"w":5,"s":4},{"k":"d","x":0.64,"y":0.57,"a":4,"b":4,"w":5,"s":4},{"k":"d","x":0.71,"y":0.57,"a":3,"b":4,"w":5,"s":3},{"k":"d","x":0.78,"y":0.57,"a":2,"b":3,"w":5,"s":3},{"k":"d","x":0.85,"y":0.57,"a":1,"b":2,"w":4,"s":2},{"k":"d","x":0.92,"y":0.57,"a":0,"b":2,"w":3,"s":2},{"k":"d","x":0.99,"y":0.57,"a":0,"b":2,"w":2,"s":1},
{"k":"d","x":0.01,"y":0.64,"a":0,"b":1,"w":1,"s":1},{"k":"d","x":0.08,"y":0.64,"a":0,"b":1,"w":1,"s":1},{"k":"d","x":0.15,"y":0.64,"a":0,"b":1,"w":1,"s":1},{"k":"d","x":0.22,"y":0.64,"a":0,"b":2,"w":2,"s":1},{"k":"d","x":0.29,"y":0.64,"a":0,"b":2,"w":2,"s":2},{"k":"d","x":0.36,"y":0.64,"a":1,"b":2,"w":3,"s":2},{"k":"d","x":0.43,"y":0.64,"a":2,"b":3,"w":4,"s":3},{"k":"d","x":0.5,"y":0.64,"a":3,"b":4,"w":5,"s":3},{"k":"d","x":0.57,"y":0.64,"a":4,"b":4,"w":5,"s":4},{"k":"d","x":0.64,"y":0.64,"a":4,"b":4,"w":5,"s":4},{"k":"d","x":0.71,"y":0.64,"a":4,"b":5,"w":5,"s":4},{"k":"d","x":0.78,"y":0.64,"a":3,"b":5,"w":5,"s":3},{"k":"d","x":0.85,"y":0.64,"a":2,"b":5,"w":5,"s":3},{"k":"d","x":0.92,"y":0.64,"a":1,"b":3,"w":5,"s":2},{"k":"d","x":0.99,"y":0.64,"a":0,"b":2,"w":4,"s":2},
{"k":"d","x":0.01,"y":0.71,"a":0,"b":1,"w":1,"s":0},{"k":"d","x":0.08,"y":0.71,"a":0,"b":1,"w":1,"s":1},{"k":"d","x":0.15,"y":0.71,"a":0,"b":1,"w":1,"s":1},{"k":"d","x":0.22,"y":0.71,"a":0,"b":1,"w":1,"s":1},{"k":"d","x":0.29,"y":0.71,"a":0,"b":2,"w":2,"s":1},{"k":"d","x":0.36,"y":0.71,"a":0,"b":2,"w":2,"s":2},{"k":"d","x":0.43,"y":0.71,"a":1,"b":2,"w":3,"s":2},{"k":"d","x":0.5,"y":0.71,"a":2,"b":3,"w":5,"s":3},{"k":"d","x":0.57,"y":0.71,"a":3,"b":4,"w":5,"s":3},{"k":"d","x":0.64,"y":0.71,"a":4,"b":5,"w":5,"s":4},{"k":"d","x":0.71,"y":0.71,"a":4,"b":5,"w":5,"s":4},{"k":"d","x":0.78,"y":0.71,"a":4,"b":5,"w":5,"s":4},{"k":"d","x":0.85,"y":0.71,"a":3,"b":5,"w":5,"s":3},{"k":"d","x":0.92,"y":0.71,"a":2,"b":5,"w":5,"s":3},{"k":"d","x":0.99,"y":0.71,"a":1,"b":5,"w":5,"s":2},
{"k":"d","x":0.01,"y":0.78,"a":0,"b":1,"w":1,"s":0},{"k":"d","x":0.08,"y":0.78,"a":0,"b":1,"w":1,"s":0},{"k":"d","x":0.15,"y":0.78,"a":0,"b":1,"w":1,"s":1},{"k":"d","x":0.22,"y":0.78,"a":0,"b":1,"w":1,"s":1},{"k":"d","x":0.29,"y":0.78,"a":0,"b":1,"w":1,"s":1},{"k":"d","x":0.36,"y":0.78,"a":0,"b":2,"w":2,"s":1},{"k":"d","x":0.43,"y":0.78,"a":0,"b":2,"w":3,"s":2},{"k":"d","x":0.5,"y":0.78,"a":1,"b":2,"w":4,"s":2},{"k":"d","x":0.57,"y":0.78,"a":2,"b":3,"w":5,"s":3},{"k":"d","x":0.64,"y":0.78,"a":3,"b":5,"w":5,"s":3},{"k":"d","x":0.71,"y":0.78,"a":4,"b":5,"w":5,"s":4},{"k":"d","x":0.78,"y":0.78,"a":5,"b":5,"w":5,"s":5},{"k":"d","x":0.85,"y":0.78,"a":5,"b":5,"w":5,"s":5},{"k":"d","x":0.92,"y":0.78,"a":5,"b":5,"w":5,"s":5},{"k":"d","x":0.99,"y":0.78,"a":5,"b":5,"w":5,"s":5},
{"k":"d","x":0.01,"y":0.85,"a":0,"b":0,"w":0,"s":0},{"k":"d","x":0.08,"y":0.85,"a":0,"b":1,"w":1,"s":0},{"k":"d","x":0.15,"y":0.85,"a":0,"b":1,"w":1,"s":0},{"k":"d","x":0.22,"y":0.85,"a":0,"b":1,"w":1,"s":1},{"k":"d","x":0.29,"y":0.85,"a":0,"b":1,"w":1,"s":1},{"k":"d","x":0.36,"y":0.85,"a":0,"b":1,"w":1,"s":1},{"k":"d","x":0.43,"y":0.85,"a":0,"b":2,"w":2,"s":1},{"k":"d","x":0.5,"y":0.85,"a":0,"b":2,"w":4,"s":2},{"k":"d","x":0.57,"y":0.85,"a":1,"b":2,"w":5,"s":2},{"k":"d","x":0.64,"y":0.85,"a":2,"b":5,"w":5,"s":3},{"k":"d","x":0.71,"y":0.85,"a":3,"b":5,"w":5,"s":3},{"k":"d","x":0.78,"y":0.85,"a":5,"b":5,"w":5,"s":5},{"k":"d","x":0.85,"y":0.85,"a":5,"b":5,"w":5,"s":5},{"k":"d","x":0.92,"y":0.85,"a":5,"b":5,"w":5,"s":5},{"k":"d","x":0.99,"y":0.85,"a":5,"b":6,"w":6,"s":5},
{"k":"d","x":0.01,"y":0.92,"a":0,"b":0,"w":0,"s":0},{"k":"d","x":0.08,"y":0.92,"a":0,"b":0,"w":0,"s":0},{"k":"d","x":0.15,"y":0.92,"a":0,"b":1,"w":1,"s":0},{"k":"d","x":0.22,"y":0.92,"a":0,"b":1,"w":1,"s":0},{"k":"d","x":0.29,"y":0.92,"a":0,"b":1,"w":1,"s":1},{"k":"d","x":0.36,"y":0.92,"a":0,"b":1,"w":1,"s":1},{"k":"d","x":0.43,"y":0.92,"a":0,"b":1,"w":2,"s":1},{"k":"d","x":0.5,"y":0.92,"a":0,"b":2,"w":3,"s":1},{"k":"d","x":0.57,"y":0.92,"a":0,"b":2,"w":5,"s":2},{"k":"d","x":0.64,"y":0.92,"a":1,"b":4,"w":5,"s":2},{"k":"d","x":0.71,"y":0.92,"a":2,"b":5,"w":5,"s":3},{"k":"d","x":0.78,"y":0.92,"a":5,"b":5,"w":5,"s":5},{"k":"d","x":0.85,"y":0.92,"a":5,"b":5,"w":5,"s":5},{"k":"d","x":0.92,"y":0.92,"a":7,"b":6,"w":6,"s":6},{"k":"d","x":0.99,"y":0.92,"a":7,"b":7,"w":7,"s":7},
{"k":"d","x":0.01,"y":0.99,"a":0,"b":0,"w":0,"s":0},{"k":"d","x":0.08,"y":0.99,"a":0,"b":0,"w":0,"s":0},{"k":"d","x":0.15,"y":0.99,"a":0,"b":0,"w":0,"s":0},{"k":"d","x":0.22,"y":0.99,"a":0,"b":1,"w":1,"s":0},{"k":"d","x":0.29,"y":0.99,"a":0,"b":1,"w":1,"s":0},{"k":"d","x":0.36,"y":0.99,"a":0,"b":1,"w":1,"s":1},{"k":"d","x":0.43,"y":0.99,"a":0,"b":1,"w":1,"s":1},{"k":"d","x":0.5,"y":0.99,"a":0,"b":1,"w":3,"s":1},{"k":"d","x":0.57,"y":0.99,"a":0,"b":2,"w":4,"s":1},{"k":"d","x":0.64,"y":0.99,"a":0,"b":3,"w":5,"s":2},{"k":"d","x":0.71,"y":0.99,"a":1,"b":5,"w":5,"s":2},{"k":"d","x":0.78,"y":0.99,"a":5,"b":5,"w":5,"s":5},{"k":"d","x":0.85,"y":0.99,"a":5,"b":6,"w":6,"s":5},{"k":"d","x":0.92,"y":0.99,"a":7,"b":7,"w":7,"s":7},{"k":"d","x":0.99,"y":0.99,"a":9,"b":8,"w":8,"s":8}
]},
"spacing":137,
"vconcat":[
{"spacing":0,"hconcat":[
{"width":1,"height":1,"view":{"stroke":null},"data":{"values":[{}]},"mark":{"type":"rule","opacity":0},"encoding":{}},
{"spacing":93,"hconcat":[
{"data":{"name":"rows"},"transform":[{"lookup":"k","from":{"data":{"name":"cA"},"key":"k","fields":["cell"]}},{"filter":"isArray(datum.cell)"},{"flatten":["cell"]}],"facet":{"field":"cell","type":"ordinal","header":{"labels":false,"title":null,"labelFontSize":0,"labelColor":"transparent","labelExpr":"''","labelPadding":0}},"columns":9,"bounds":"flush","spacing":{"row":19,"column":19},
"spec":{"width":78,"height":74,"encoding":{"x":{"field":"x","type":"quantitative","scale":{"domain":[-0.03,1.03],"nice":false,"zero":false},"axis":{"title":null,"grid":false,"domain":false,"values":[0,0.2,0.4,0.6,0.8,1],"format":".1f","labelExpr":"indexof(['0.0','0.6'],datum.label)>=0?datum.label:''","tickSize":10,"tickColor":"#444","tickWidth":1.5,"labelFontSize":16,"labelColor":"#444","labelPadding":12,"labelOverlap":false,"labelBound":false,"labelFlush":false}},"y":{"field":"y","type":"quantitative","scale":{"domain":[-0.03,1.03],"nice":false,"zero":false},"axis":null}},
"layer":[
{"transform":[{"filter":"datum.k=='d'"}],"mark":{"type":"rect","width":6,"height":6,"clip":true},"encoding":{"color":{"field":"a","type":"quantitative","legend":null,"scale":{"domain":[0,1,2,3,4,5,6,7,8,9],"range":["#2b41e2","#3158e8","#4f8cf0","#6fb4f4","#86d6ee","#9fe640","#a9e83a","#f0e64a","#f2a33a","#d8402a"]}}}},
{"transform":[{"filter":"datum.k=='d'"}],"mark":{"type":"rect","width":11,"height":11,"opacity":0.45,"clip":true},"encoding":{"color":{"field":"a","type":"quantitative","legend":null}}},
{"transform":[{"filter":"datum.t=='h'"}],"mark":{"type":"rect","fill":"#7fc4c4","stroke":"#3c6a6a","strokeWidth":1.5},"encoding":{"x2":{"field":"x2"},"y2":{"datum":0}}},
{"transform":[{"filter":"datum.t=='p'"}],"mark":{"type":"point","filled":true,"color":"#000","size":12,"opacity":1,"clip":true}},
{"transform":[{"filter":"datum.k=='f'"}],"mark":{"type":"rule","color":"#9a4a3a","strokeWidth":2.5},"encoding":{"x2":{"field":"x2"},"y2":{"field":"y2"}}},
{"transform":[{"filter":"datum.t=='r'"}],"mark":{"type":"rule","color":"#444","strokeWidth":1.5},"encoding":{"x2":{"field":"x2"},"y2":{"field":"y2"}}},
{"transform":[{"filter":"datum.t=='c'"}],"mark":{"type":"text","fontSize":31,"color":"#111","baseline":"middle"},"encoding":{"text":{"field":"k"}}},
{"transform":[{"filter":"datum.t=='l'"}],"mark":{"type":"text","fontSize":16,"color":"#333","baseline":"middle"},"encoding":{"text":{"field":"k"}}},
{"transform":[{"filter":"datum.t=='a'"}],"mark":{"type":"text","fontSize":16,"color":"#444","baseline":"middle"},"encoding":{"text":{"field":"v"}}},
{"transform":[{"filter":"datum.t=='s'"}],"mark":{"type":"text","fontSize":16,"color":"#444","baseline":"middle","angle":270},"encoding":{"text":{"field":"v"}}},
{"transform":[{"filter":"datum.t=='z'"}],"mark":{"type":"text","fontSize":16,"color":"#14204a","baseline":"middle","angle":270},"encoding":{"text":{"field":"v"}}},
{"transform":[{"filter":"datum.t=='L'"}],"mark":{"type":"text","fontSize":28,"fontWeight":"bold","color":"#000","baseline":"middle"},"encoding":{"text":{"field":"k"}}}
]}},
{"data":{"name":"rows"},"transform":[{"lookup":"k","from":{"data":{"name":"cB"},"key":"k","fields":["cell"]}},{"filter":"isArray(datum.cell)"},{"flatten":["cell"]}],"facet":{"field":"cell","type":"ordinal","header":{"labels":false,"title":null,"labelFontSize":0,"labelColor":"transparent","labelExpr":"''","labelPadding":0}},"columns":6,"bounds":"flush","spacing":{"row":18,"column":18},
"spec":{"width":121,"height":115,"encoding":{"x":{"field":"x","type":"quantitative","scale":{"domain":[-0.03,1.03],"nice":false,"zero":false},"axis":{"title":null,"grid":false,"domain":false,"values":[0,0.2,0.4,0.6,0.8,1],"format":".1f","labelExpr":"indexof(['0.0','0.4','0.8'],datum.label)>=0?datum.label:''","tickSize":10,"tickColor":"#444","tickWidth":1.5,"labelFontSize":16,"labelColor":"#444","labelPadding":10,"labelOverlap":false,"labelBound":false,"labelFlush":false}},"y":{"field":"y","type":"quantitative","scale":{"domain":[-0.03,1.03],"nice":false,"zero":false},"axis":null}},
"layer":[
{"transform":[{"filter":{"field":"k","equal":"d"}},{"filter":{"field":"cell","oneOf":[7,13,14,25,28,31,34]}}],"mark":{"type":"rect","width":9,"height":9,"clip":true},"encoding":{"color":{"field":"b","type":"quantitative","legend":null,"scale":{"domain":[0,1,2,3,4,5,6,7,8,9],"range":["#5c55e6","#4c63ec","#4a86f0","#62b0f2","#88d8f0","#a2e84a","#b4ea44","#f0e64a","#f2a33a","#d8402a"]}}}},
{"transform":[{"filter":{"field":"k","equal":"d"}},{"filter":{"field":"cell","oneOf":[7,13,14,25,28,31,34]}}],"mark":{"type":"rect","width":17,"height":17,"opacity":0.45,"clip":true},"encoding":{"color":{"field":"b","type":"quantitative","legend":null}}},
{"transform":[{"filter":{"field":"k","equal":"d"}},{"filter":{"field":"cell","oneOf":[19,21,27,32]}}],"mark":{"type":"rect","width":9,"height":9,"clip":true},"encoding":{"color":{"field":"w","type":"quantitative","legend":null}}},
{"transform":[{"filter":{"field":"k","equal":"d"}},{"filter":{"field":"cell","oneOf":[19,21,27,32]}}],"mark":{"type":"rect","width":17,"height":17,"opacity":0.45,"clip":true},"encoding":{"color":{"field":"w","type":"quantitative","legend":null}}},
{"transform":[{"filter":{"field":"k","equal":"d"}},{"filter":{"field":"cell","oneOf":[20,26,33,35]}}],"mark":{"type":"rect","width":9,"height":9,"clip":true},"encoding":{"color":{"field":"s","type":"quantitative","legend":null}}},
{"transform":[{"filter":{"field":"k","equal":"d"}},{"filter":{"field":"cell","oneOf":[20,26,33,35]}}],"mark":{"type":"rect","width":17,"height":17,"opacity":0.45,"clip":true},"encoding":{"color":{"field":"s","type":"quantitative","legend":null}}},
{"transform":[{"filter":"datum.t=='h'"}],"mark":{"type":"rect","fill":"#8fe4e4","stroke":"#2a6a6a","strokeWidth":1},"encoding":{"x2":{"field":"x2"},"y2":{"datum":0}}},
{"transform":[{"filter":"datum.t=='p'"}],"mark":{"type":"point","filled":true,"color":"#111","size":5,"opacity":1,"clip":true}},
{"transform":[{"filter":"datum.k=='f'"}],"mark":{"type":"rule","color":"#8a5a3a","strokeWidth":3},"encoding":{"x2":{"field":"x2"},"y2":{"field":"y2"}}},
{"transform":[{"filter":"datum.t=='r'"}],"mark":{"type":"rule","color":"#444","strokeWidth":1.5},"encoding":{"x2":{"field":"x2"},"y2":{"field":"y2"}}},
{"transform":[{"filter":"datum.t=='c'"}],"mark":{"type":"text","fontSize":46,"color":"#111","baseline":"middle"},"encoding":{"text":{"field":"k"}}},
{"transform":[{"filter":"datum.t=='l'"}],"mark":{"type":"text","fontSize":29,"color":"#222","baseline":"middle"},"encoding":{"text":{"field":"k"}}},
{"transform":[{"filter":"datum.t=='a'"}],"mark":{"type":"text","fontSize":16,"color":"#444","baseline":"middle"},"encoding":{"text":{"field":"v"}}},
{"transform":[{"filter":"datum.t=='s'"}],"mark":{"type":"text","fontSize":16,"color":"#444","baseline":"middle","angle":270},"encoding":{"text":{"field":"v"}}},
{"transform":[{"filter":"datum.t=='z'"}],"mark":{"type":"text","fontSize":16,"color":"#14204a","baseline":"middle","angle":270},"encoding":{"text":{"field":"v"}}},
{"transform":[{"filter":"datum.t=='q'"}],"mark":{"type":"text","fontSize":16,"color":"#2c5a7a","opacity":0.5,"baseline":"middle"},"encoding":{"text":{"field":"v"}}},
{"transform":[{"filter":"datum.t=='L'"}],"mark":{"type":"text","fontSize":28,"fontWeight":"bold","color":"#000","baseline":"middle"},"encoding":{"text":{"field":"k"}}}
]}}
]}]},
{"spacing":0,"hconcat":[
{"width":1,"height":1,"view":{"stroke":null},"data":{"values":[{}]},"mark":{"type":"rule","opacity":0},"encoding":{}},
{"data":{"name":"rows"},"transform":[{"lookup":"k","from":{"data":{"name":"cC"},"key":"k","fields":["cell"]}},{"filter":"isArray(datum.cell)"},{"flatten":["cell"]}],"facet":{"field":"cell","type":"ordinal","header":{"labels":false,"title":null,"labelFontSize":0,"labelColor":"transparent","labelExpr":"''","labelPadding":0}},"columns":9,"bounds":"flush","spacing":{"row":19.5,"column":20},
"spec":{"width":85,"height":81,"encoding":{"x":{"field":"x","type":"quantitative","scale":{"domain":[-0.03,1.03],"nice":false,"zero":false},"axis":{"title":null,"grid":false,"domain":false,"values":[0,0.2,0.4,0.6,0.8,1],"format":".1f","labelExpr":"indexof(['0.0','0.6'],datum.label)>=0?datum.label:''","tickSize":10,"tickColor":"#444","tickWidth":1.5,"labelFontSize":17,"labelColor":"#444","labelPadding":12,"labelOverlap":false,"labelBound":false,"labelFlush":false}},"y":{"field":"y","type":"quantitative","scale":{"domain":[-0.03,1.03],"nice":false,"zero":false},"axis":null}},
"layer":[
{"transform":[{"filter":"datum.k=='d'"}],"mark":{"type":"rect","width":6.5,"height":6.5,"clip":true},"encoding":{"color":{"field":"a","type":"quantitative","legend":null,"scale":{"domain":[0,1,2,3,4,5,6,7,8,9],"range":["#2b41e2","#3158e8","#4f8cf0","#6fb4f4","#86d6ee","#9fe640","#a9e83a","#f0e64a","#f2a33a","#d8402a"]}}}},
{"transform":[{"filter":"datum.k=='d'"}],"mark":{"type":"rect","width":12,"height":12,"opacity":0.45,"clip":true},"encoding":{"color":{"field":"a","type":"quantitative","legend":null}}},
{"transform":[{"filter":"datum.t=='h'"}],"mark":{"type":"rect","fill":"#7fc4c4","stroke":"#3c6a6a","strokeWidth":1.5},"encoding":{"x2":{"field":"x2"},"y2":{"datum":0}}},
{"transform":[{"filter":"datum.t=='p'"}],"mark":{"type":"point","filled":true,"color":"#000","size":12,"opacity":1,"clip":true}},
{"transform":[{"filter":"datum.k=='f'"}],"mark":{"type":"rule","color":"#9a4a3a","strokeWidth":2.5},"encoding":{"x2":{"field":"x2"},"y2":{"field":"y2"}}},
{"transform":[{"filter":"datum.t=='r'"}],"mark":{"type":"rule","color":"#444","strokeWidth":1.5},"encoding":{"x2":{"field":"x2"},"y2":{"field":"y2"}}},
{"transform":[{"filter":"datum.t=='c'"}],"mark":{"type":"text","fontSize":33,"color":"#111","baseline":"middle"},"encoding":{"text":{"field":"k"}}},
{"transform":[{"filter":"datum.t=='l'"}],"mark":{"type":"text","fontSize":18,"color":"#333","baseline":"middle"},"encoding":{"text":{"field":"k"}}},
{"transform":[{"filter":"datum.t=='a'"}],"mark":{"type":"text","fontSize":17,"color":"#444","baseline":"middle"},"encoding":{"text":{"field":"v"}}},
{"transform":[{"filter":"datum.t=='s'"}],"mark":{"type":"text","fontSize":17,"color":"#444","baseline":"middle","angle":270},"encoding":{"text":{"field":"v"}}},
{"transform":[{"filter":"datum.t=='z'"}],"mark":{"type":"text","fontSize":17,"color":"#14204a","baseline":"middle","angle":270},"encoding":{"text":{"field":"v"}}},
{"transform":[{"filter":"datum.t=='L'"}],"mark":{"type":"text","fontSize":28,"fontWeight":"bold","color":"#000","baseline":"middle"},"encoding":{"text":{"field":"k"}}}
]}}
]}
]}
